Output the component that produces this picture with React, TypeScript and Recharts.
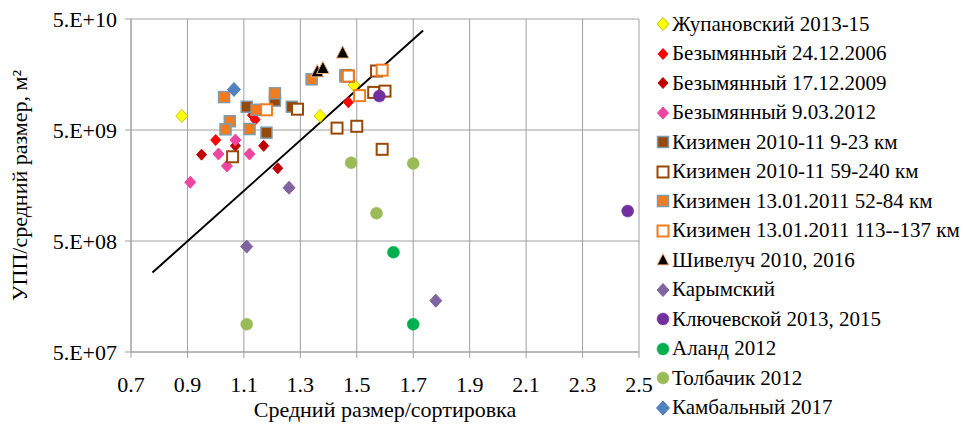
import React from 'react';
import { ScatterChart, Scatter, XAxis, YAxis, CartesianGrid, ReferenceLine } from 'recharts';

type Pt = { x: number; y: number };

const zhupanovsky: Pt[] = [
  { x: 0.88, y: 6.7e9 },
  { x: 1.37, y: 6.7e9 },
  { x: 1.49, y: 1.27e10 },
];
const bezym2006: Pt[] = [
  { x: 1.0, y: 4.06e9 },
  { x: 1.13, y: 6.8e9 },
  { x: 1.14, y: 6.2e9 },
  { x: 1.47, y: 8.9e9 },
];
const bezym2009: Pt[] = [
  { x: 0.95, y: 3.0e9 },
  { x: 1.07, y: 3.6e9 },
  { x: 1.17, y: 3.6e9 },
  { x: 1.22, y: 2.26e9 },
];
const bezym2012: Pt[] = [
  { x: 1.07, y: 4.06e9 },
  { x: 1.01, y: 3.04e9 },
  { x: 1.12, y: 3.04e9 },
  { x: 1.04, y: 2.37e9 },
  { x: 0.91, y: 1.69e9 },
];
const kizimen923: Pt[] = [
  { x: 1.11, y: 8.1e9 },
  { x: 1.18, y: 4.73e9 },
  { x: 1.21, y: 9.2e9 },
  { x: 1.27, y: 8.1e9 },
  { x: 1.46, y: 1.56e10 },
];
const kizimen59240: Pt[] = [
  { x: 1.06, y: 2.87e9 },
  { x: 1.29, y: 7.7e9 },
  { x: 1.43, y: 5.2e9 },
  { x: 1.5, y: 5.4e9 },
  { x: 1.59, y: 3.35e9 },
  { x: 1.56, y: 1.09e10 },
  { x: 1.6, y: 1.12e10 },
  { x: 1.57, y: 1.7e10 },
  { x: 1.47, y: 1.53e10 },
];
const kizimen5284: Pt[] = [
  { x: 1.03, y: 9.9e9 },
  { x: 1.05, y: 6.0e9 },
  { x: 1.035, y: 5.07e9 },
  { x: 1.12, y: 5.1e9 },
  { x: 1.145, y: 7.6e9 },
  { x: 1.21, y: 1.07e10 },
  { x: 1.34, y: 1.43e10 },
  { x: 1.46, y: 1.52e10 },
];
const kizimen113137: Pt[] = [
  { x: 1.18, y: 7.6e9 },
  { x: 1.51, y: 1.02e10 },
  { x: 1.59, y: 1.73e10 },
  { x: 1.47, y: 1.53e10 },
];
const shiveluch: Pt[] = [
  { x: 1.36, y: 1.68e10 },
  { x: 1.38, y: 1.8e10 },
  { x: 1.45, y: 2.48e10 },
];
const karymsky: Pt[] = [
  { x: 1.26, y: 1.51e9 },
  { x: 1.11, y: 4.45e8 },
  { x: 1.78, y: 1.45e8 },
];
const klyuchevskoy: Pt[] = [
  { x: 1.58, y: 1.01e10 },
  { x: 2.46, y: 9.3e8 },
];
const alaid: Pt[] = [
  { x: 1.63, y: 3.96e8 },
  { x: 1.7, y: 8.9e7 },
];
const tolbachik: Pt[] = [
  { x: 1.48, y: 2.54e9 },
  { x: 1.7, y: 2.5e9 },
  { x: 1.57, y: 8.9e8 },
  { x: 1.11, y: 8.9e7 },
];
const kambalny: Pt[] = [{ x: 1.065, y: 1.16e10 }];

const trendLine: Pt[] = [
  { x: 0.776, y: 2.6e8 },
  { x: 1.735, y: 3.93e10 },
];

const xTicks = [0.7, 0.9, 1.1, 1.3, 1.5, 1.7, 1.9, 2.1, 2.3, 2.5];
const yTicks = [5e7, 5e8, 5e9, 5e10];

type Kind = 'diamond' | 'square' | 'hollow' | 'circle' | 'triangle';

const series = [
  { name: 'Жупановский 2013-15', data: zhupanovsky, kind: 'diamond', fill: '#FFFF00', stroke: '#C9C400', size: 12 },
  { name: 'Безымянный 24.12.2006', data: bezym2006, kind: 'diamond', fill: '#FF0000', stroke: '#FF0000', size: 10 },
  { name: 'Безымянный 17.12.2009', data: bezym2009, kind: 'diamond', fill: '#C00000', stroke: '#C00000', size: 10 },
  { name: 'Безымянный 9.03.2012', data: bezym2012, kind: 'diamond', fill: '#EE45A0', stroke: '#EE45A0', size: 11 },
  { name: 'Кизимен 2010-11 9-23 км', data: kizimen923, kind: 'square', fill: '#984807', stroke: '#7F9CAE', size: 11 },
  { name: 'Кизимен 2010-11 59-240 км', data: kizimen59240, kind: 'hollow', fill: '#FFFFFF', stroke: '#984807', size: 11 },
  { name: 'Кизимен 13.01.2011 52-84 км', data: kizimen5284, kind: 'square', fill: '#F07C1E', stroke: '#7F9CAE', size: 11 },
  { name: 'Кизимен 13.01.2011 113--137 км', data: kizimen113137, kind: 'hollow', fill: '#FFFFFF', stroke: '#F07C1E', size: 11 },
  { name: 'Шивелуч 2010, 2016', data: shiveluch, kind: 'triangle', fill: '#000000', stroke: '#F4B183', size: 14 },
  { name: 'Карымский', data: karymsky, kind: 'diamond', fill: '#8064A2', stroke: '#8064A2', size: 12 },
  { name: 'Ключевской 2013, 2015', data: klyuchevskoy, kind: 'circle', fill: '#7030A0', stroke: '#7030A0', size: 12 },
  { name: 'Аланд 2012', data: alaid, kind: 'circle', fill: '#00B050', stroke: '#00B050', size: 12 },
  { name: 'Толбачик 2012', data: tolbachik, kind: 'circle', fill: '#9BBB59', stroke: '#9BBB59', size: 12 },
  { name: 'Камбальный 2017', data: kambalny, kind: 'diamond', fill: '#4F81BD', stroke: '#4F81BD', size: 13 },
];

const FONT = 'Liberation Serif, Times New Roman, serif';
const GRID = '#A0A0A0';

function Marker({ kind, cx, cy, fill, stroke, size }: { kind: string; cx: number; cy: number; fill: string; stroke: string; size: number }) {
  const r = size / 2;
  switch (kind as Kind) {
    case 'diamond':
      return <polygon points={`${cx},${cy - r - 0.5} ${cx + r},${cy} ${cx},${cy + r + 0.5} ${cx - r},${cy}`} fill={fill} stroke={stroke} strokeWidth={1} />;
    case 'square':
      return <rect x={cx - r} y={cy - r} width={size} height={size} fill={fill} stroke={stroke} strokeWidth={1.5} />;
    case 'hollow':
      return <rect x={cx - r} y={cy - r} width={size} height={size} fill="#FFFFFF" stroke={stroke} strokeWidth={2} />;
    case 'circle':
      return <circle cx={cx} cy={cy} r={r} fill={fill} stroke={stroke} strokeWidth={0.5} />;
    case 'triangle':
      return <polygon points={`${cx},${cy - r} ${cx + r * 0.9},${cy + r * 0.75} ${cx - r * 0.9},${cy + r * 0.75}`} fill={fill} stroke={stroke} strokeWidth={1} />;
  }
  return null;
}

const yFmt = (v: number) => `5.E+${String(Math.round(Math.log10(v / 5))).padStart(2, '0')}`;

export default function App() {
  return (
    <div style={{ position: 'absolute', left: 0, top: 0, width: 963, height: 425, background: '#fff', fontFamily: FONT }}>
      <ScatterChart width={963} height={425} margin={{ top: 19, right: 324, bottom: 0, left: 0 }}>
        <CartesianGrid stroke={GRID} strokeWidth={1} />
        <XAxis
          type="number"
          dataKey="x"
          domain={[0.7, 2.5]}
          ticks={xTicks}
          tickFormatter={(v: number) => v.toFixed(1)}
          height={73}
          stroke={GRID}
          tickSize={6}
          tickMargin={18}
          tick={{ fill: '#000', fontSize: 22, fontFamily: FONT }}
          allowDataOverflow
          label={{ value: 'Средний размер/сортировка', position: 'insideBottom', offset: 8, fill: '#000', fontSize: 22, fontFamily: FONT }}
        />
        <YAxis
          type="number"
          dataKey="y"
          scale="log"
          domain={[5e7, 5e10]}
          ticks={yTicks}
          tickFormatter={yFmt}
          width={131}
          stroke={GRID}
          tickSize={6}
          tickMargin={8}
          tick={{ fill: '#000', fontSize: 22, fontFamily: FONT }}
          allowDataOverflow
          label={{ value: 'УПП/средний размер, м²', angle: -90, position: 'center', dx: -46, fill: '#000', fontSize: 22, fontFamily: FONT }}
        />
        <ReferenceLine segment={trendLine} stroke="#000" strokeWidth={2} ifOverflow="visible" />
        {series.map((s) => (
          <Scatter
            key={s.name}
            name={s.name}
            data={s.data}
            isAnimationActive={false}
            shape={(p: any) => <Marker kind={s.kind} cx={p.cx} cy={p.cy} fill={s.fill} stroke={s.stroke} size={s.size} />}
          />
        ))}
      </ScatterChart>
      <div style={{ position: 'absolute', left: 655, top: 0 }}>
        {series.map((s, i) => (
          <div
            key={s.name}
            style={{ position: 'absolute', left: 0, top: 24 + i * 29.5 - 15, height: 30, display: 'flex', alignItems: 'center', whiteSpace: 'nowrap', fontSize: 21, color: '#000' }}
          >
            <svg width={16} height={16} style={{ flex: 'none' }}>
              <Marker kind={s.kind} cx={8} cy={8} fill={s.fill} stroke={s.stroke} size={Math.min(s.size, 13)} />
            </svg>
            <span style={{ marginLeft: 1 }}>{s.name}</span>
          </div>
        ))}
      </div>
    </div>
  );
}
